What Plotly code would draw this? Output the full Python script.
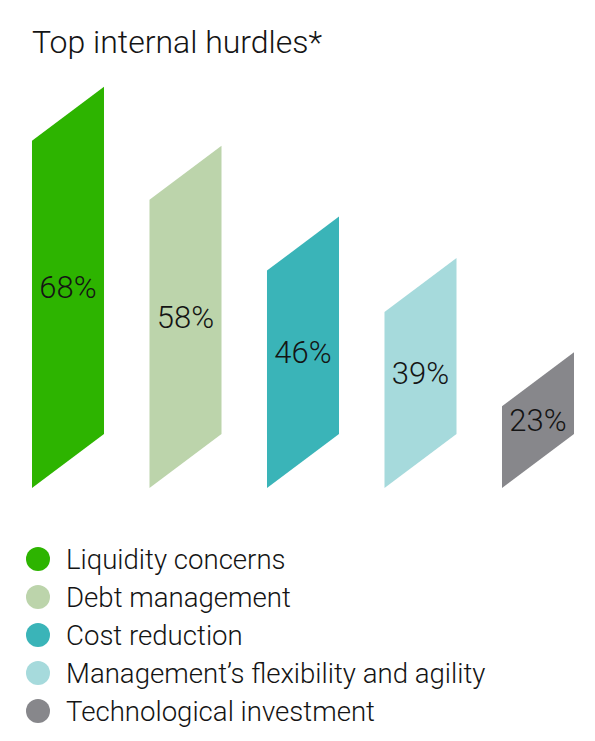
import plotly.graph_objects as go

# ── data ─────────────────────────────────────────────
categories = [
    "Liquidity concerns",
    "Debt management",
    "Cost reduction",
    "Management’s flexibility and agility",
    "Technological investment",
]
values = [68, 58, 46, 39, 23]
labels = ["68%", "58%", "46%", "39%", "23%"]
colors = ["#2db400", "#bcd4ab", "#3ab4b8", "#a6dadc", "#87878b"]

title_text = "Top internal hurdles*"

# ── geometry (style only) ────────────────────────────
W, H = 595, 741
bar_w = 0.613      # bar width in category units
skew = 9.15        # vertical shear of each bar, in value units
label_drop = 0.5   # labels sit slightly below the geometric centre
FONT = "Roboto"
TXT = "#141414"

fig = go.Figure()

# parallelogram bars
for i, (cat, v, col) in enumerate(zip(categories, values, colors)):
    x0, x1 = i - bar_w / 2, i + bar_w / 2
    fig.add_trace(go.Scatter(
        x=[x0, x0, x1, x1, x0],
        y=[0, v - skew, v, skew, 0],
        mode="lines",
        fill="toself",
        fillcolor=col,
        line=dict(width=0, color=col),
        hoverinfo="skip",
        showlegend=False,
    ))

# value labels at the centre of each bar
fig.add_trace(go.Scatter(
    x=list(range(len(values))),
    y=[v / 2 - label_drop for v in values],
    mode="text",
    text=labels,
    textposition="middle center",
    textfont=dict(family=FONT, size=31, color=TXT, weight=300),
    hoverinfo="skip",
    showlegend=False,
))

# legend drawn on a second pair of axes (overlaid)
rows = list(range(len(categories)))
fig.add_trace(go.Scatter(
    x=[38] * len(categories),
    y=rows,
    mode="markers",
    marker=dict(size=24, color=colors, line=dict(width=0)),
    xaxis="x2", yaxis="y2",
    hoverinfo="skip",
    showlegend=False,
))
for r, cat in zip(rows, categories):
    fig.add_annotation(
        x=64, y=r, xref="x2", yref="y2",
        text=cat, showarrow=False,
        xanchor="left", yanchor="middle",
        font=dict(family=FONT, size=27.6, color=TXT, weight=300),
    )

# title
fig.add_annotation(
    x=30 / W, y=1 - 42 / H, xref="paper", yref="paper",
    text=title_text, showarrow=False,
    xanchor="left", yanchor="middle",
    font=dict(family=FONT, size=32, color=TXT, weight=300),
)

px_per_cat = 117.5
px_per_val = 5.9
x_start = -68 / px_per_cat
y_base = 488

fig.update_layout(
    width=W, height=H,
    margin=dict(l=0, r=0, t=0, b=0),
    plot_bgcolor="white",
    paper_bgcolor="white",
    xaxis=dict(range=[x_start, x_start + W / px_per_cat], visible=False,
               domain=[0, 1], fixedrange=True),
    yaxis=dict(range=[-(H - y_base) / px_per_val, y_base / px_per_val],
               visible=False, domain=[0, 1], fixedrange=True),
    xaxis2=dict(range=[0, W], visible=False, overlaying="x",
                anchor="y2", fixedrange=True),
    yaxis2=dict(range=[(H - 559) / 38, -559 / 38], visible=False,
                overlaying="y", anchor="x2", fixedrange=True),
    showlegend=False,
)

fig.write_html("out.html", config={"displayModeBar": False},
               post_script="document.body.style.margin='0';")
